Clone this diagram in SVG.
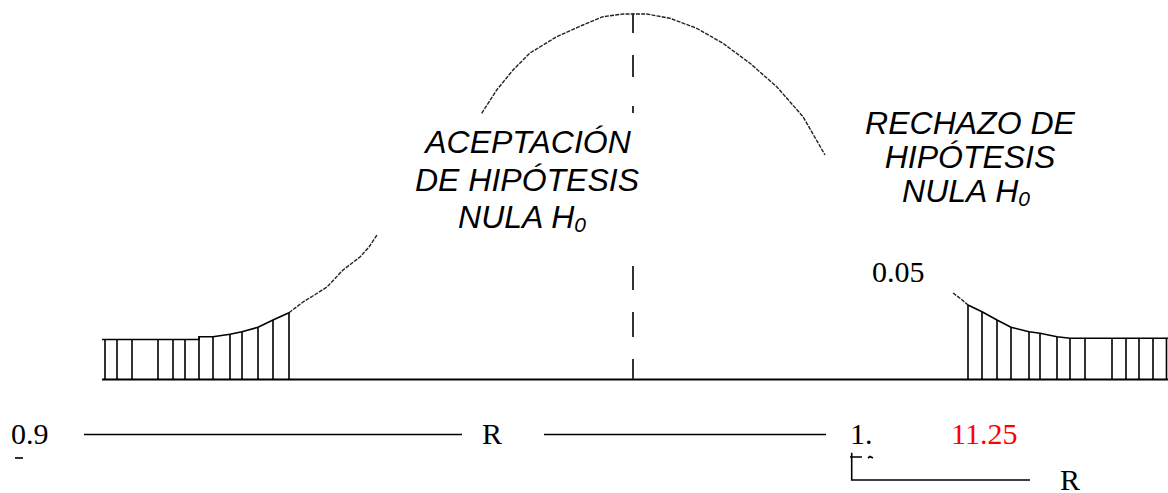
<svg xmlns="http://www.w3.org/2000/svg" width="1168" height="493" viewBox="0 0 1168 493">
<style>
.ax{stroke:#000;stroke-width:2;fill:none}
.hat{stroke:#000;stroke-width:1.6;fill:none}
.crv{stroke:#222;stroke-width:1.4;fill:none;stroke-dasharray:4 1.2}
.cl{stroke:#333;stroke-width:2;fill:none}
.lbl{font-family:"Liberation Sans",Arial,sans-serif;font-style:italic;font-size:32px;fill:#000;text-anchor:middle}
.num{font-family:"Liberation Serif","Times New Roman",serif;font-size:30px;fill:#000}
.red{fill:#ff0000}
.ln{stroke:#000;stroke-width:1.6;fill:none}
</style>
<rect width="1168" height="493" fill="#fff"/>
<g id="curve">
<polyline class="hat" points="102,339.5 199,339.5 199,336.7 213,336.7 230,334.3 242,331.7 258,327.3 273,320 289,312.7"/>
<polyline class="crv" points="289,312.7 303,302 316,294 327,287 343,270 360,257 369,247 377,235"/>
<polyline class="crv" points="481.7,113.3 496.7,90 513,70 530,53 556.7,36.7 583,25 603,16.7 623,14 646.7,14 670,18.3 696.7,28.3 723,43.3 750,63.3 776.7,86.7 803,116.7 825,155"/>
<polyline class="crv" points="953,293 961,299 968,305"/>
<polyline class="hat" points="968,305 982,311.7 997,320 1011,327.3 1029,331.7 1040,333.3 1057,336.7 1070,338.3 1168,338.3"/>
</g>
<g id="axis">
<line class="ax" x1="102" y1="379.5" x2="1168" y2="379.5"/>
<path class="cl" d="M633,13V33M633,55V77M633,106V113M633,266V290M633,312V337M633,359V379"/>
</g>
<g id="hatch-left">
<path class="hat" d="M105,339.5V379.5M117,339.5V379.5M132,339.5V379.5M158,339.5V379.5M173,339.5V379.5M185,339.5V379.5M199,337V379.5M213,336.7V379.5M230,334.3V379.5M242,331.7V379.5M258,327.3V379.5M273,320V379.5M289,312.7V379.5"/>
</g>
<g id="hatch-right">
<path class="hat" d="M968,305V379.5M982,311.7V379.5M997,320V379.5M1011,327.3V379.5M1029,331.7V379.5M1040,333.3V379.5M1057,336.7V379.5M1070,338.3V379.5M1085,338.3V379.5M1112,338.3V379.5M1126,338.3V379.5M1139,338.3V379.5M1153,338.3V379.5M1166.5,338.3V379.5"/>
</g>
<g id="label-accept">
<text class="lbl" x="528" y="153">ACEPTACIÓN</text>
<text class="lbl" x="527" y="191">DE HIPÓTESIS</text>
<text class="lbl" x="522" y="228">NULA H<tspan font-size="21" dy="4">0</tspan></text>
</g>
<g id="label-reject">
<text class="lbl" x="970" y="134">RECHAZO DE</text>
<text class="lbl" x="970" y="168">HIPÓTESIS</text>
<text class="lbl" x="966" y="202">NULA H<tspan font-size="21" dy="4">0</tspan></text>
</g>
<g id="alpha">
<text class="num" x="872" y="282">0.05</text>
</g>
<g id="bottom">
<text class="num" x="11" y="444">0.9</text>
<line class="ln" x1="84" y1="434.5" x2="462" y2="434.5"/>
<text class="num" x="482" y="444">R</text>
<line class="ln" x1="544" y1="434.5" x2="826" y2="434.5"/>
<text class="num" x="850" y="444">1.</text>
<text class="num red" x="951" y="444">11.25</text>
<line class="ln" x1="15" y1="458" x2="23" y2="458"/>
<path class="ln" d="M851.7,452.7V480H1030M850,457H862M868,458L870,456.5L873,458"/>
<text class="num" x="1060" y="490">R</text>
</g>
</svg>
